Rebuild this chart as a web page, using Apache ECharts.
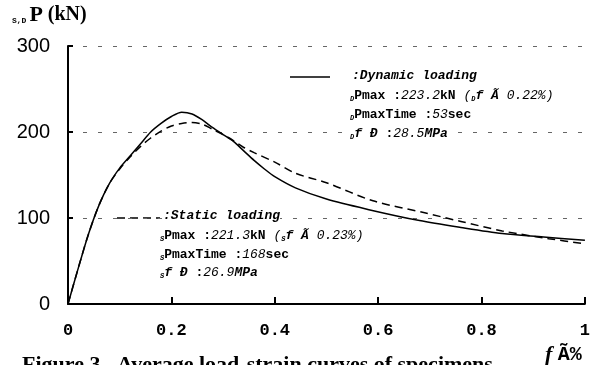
<!DOCTYPE html>
<html>
<head>
<meta charset="utf-8">
<script src="https://cdn.jsdelivr.net/npm/echarts@6/dist/echarts.min.js"></script>
<style>
html,body{margin:0;padding:0;background:#fff;}
#main{width:593px;height:365px;}
</style>
</head>
<body>
<div id="main"></div>
<script>
// strain (%) vs load (kN)
var dynStrain = [0,0.02,0.04,0.06,0.08,0.10,0.12,0.14,0.16,0.18,0.20,0.22,0.24,0.26,0.28,0.30,0.32,0.34,0.36,0.38,0.40,0.44,0.50,0.58,0.68,0.76,0.84,0.92,1.0];
var dynLoad   = [0,42,82,115,140,158,172,186,200,210,218,223,221,214,205,197,189,178,167,157,148,135,122,110,97,89,82,78,74];
var staStrain = [0,0.02,0.04,0.06,0.08,0.10,0.12,0.14,0.16,0.18,0.20,0.22,0.24,0.26,0.28,0.30,0.32,0.34,0.36,0.40,0.44,0.50,0.59,0.69,0.76,0.84,0.93,1.0];
var staLoad   = [0,42,82,115,140,157,171,183,193,201,207,210,211,209,203,197,190,182,176,165,152,141,120,106,96,85,76,70];
var xTicks = ['0','0.2','0.4','0.6','0.8','1'];

function pairs(xs,ys){
	var out=[];
	for(var i=0;i<xs.length;i++){ out.push([xs[i],ys[i]]); }
	return out;
}

var mono = 'Liberation Mono';
var rich = {
	sub:{fontFamily:mono,fontSize:7,fontWeight:'bold',fontStyle:'italic',verticalAlign:'bottom',padding:[8,0,0,0]},
	b:{fontFamily:mono,fontSize:13,fontWeight:'bold'},
	bi:{fontFamily:mono,fontSize:13,fontWeight:'bold',fontStyle:'italic'},
	i:{fontFamily:mono,fontSize:13,fontStyle:'italic'}
};

function note(x,y,txt){
	return {type:'text',left:x,top:y,z:10,
		style:{text:txt,rich:rich,fill:'#000',backgroundColor:'#fff',font:'bold 13px '+mono}};
}

var chart = echarts.init(document.getElementById('main'));
var option = {
	backgroundColor:'#fff',
	animation:false,
	grid:{left:68,right:3,top:46,bottom:61},
	xAxis:{
		type:'value',min:0,max:1,interval:0.2,
		axisLine:{lineStyle:{color:'#000',width:2}},
		axisTick:{inside:true,length:7,lineStyle:{color:'#000',width:2}},
		axisLabel:{color:'#000',fontFamily:mono,fontWeight:'bold',fontSize:17,margin:18,
			formatter:function(v){ return xTicks[Math.round(v*5)]; }},
		splitLine:{show:false}
	},
	yAxis:{
		type:'value',min:0,max:300,interval:100,
		axisLine:{show:true,lineStyle:{color:'#000',width:2}},
		axisTick:{show:true,inside:true,length:5,lineStyle:{color:'#000',width:2}},
		axisLabel:{color:'#000',fontFamily:'Liberation Sans',fontSize:20,margin:18},
		splitLine:{show:true,lineStyle:{color:'#666',width:1,type:[4,11]}}
	},
	series:[
		{name:'Dynamic',type:'line',data:pairs(dynStrain,dynLoad),smooth:0.3,showSymbol:false,
			lineStyle:{color:'#000',width:1.5}},
		{name:'Static',type:'line',data:pairs(staStrain,staLoad),smooth:0.3,showSymbol:false,
			lineStyle:{color:'#000',width:1.5,type:[8,5]}}
	],
	graphic:[
		{type:'text',left:12,top:4,
			style:{text:'{s|S,D}{p|P}{u| (kN)}',rich:{
				s:{fontFamily:mono,fontSize:8,fontWeight:'bold',padding:[12,3,0,0]},
				p:{fontFamily:'Liberation Serif',fontSize:22,fontWeight:'bold'},
				u:{fontFamily:'Liberation Serif',fontSize:20,fontWeight:'bold'}},fill:'#000'}},
		// dynamic legend
		{type:'line',shape:{x1:290,y1:77,x2:330,y2:77},style:{stroke:'#000',lineWidth:1.5}},
		note(352,69,'{bi|:Dynamic loading}'),
		note(350,88,'{sub|D}{b|Pmax :}{i|223.2}{b|kN} {i|(}{sub|D}{bi|f Ã}{i| 0.22%)}'),
		note(350,107,'{sub|D}{b|PmaxTime :}{i|53}{b|sec}'),
		note(350,126,'{sub|D}{bi|f Đ} {b|:}{i|28.5}{bi|MPa}'),
		// static legend
		{type:'line',shape:{x1:117,y1:218,x2:160,y2:218},style:{stroke:'#000',lineWidth:1.5,lineDash:[8,5]}},
		note(163,209,'{bi|:Static loading}'),
		note(160,228,'{sub|S}{b|Pmax :}{i|221.3}{b|kN} {i|(}{sub|S}{bi|f Ã}{i| 0.23%)}'),
		note(160,247,'{sub|S}{b|PmaxTime :}{i|168}{b|sec}'),
		note(160,265,'{sub|S}{bi|f Đ} {b|:}{i|26.9}{bi|MPa}'),
		// caption and x-axis name, clipped at the bottom edge
		{type:'text',left:22,top:354,
			style:{text:'Figure 3   Average load-strain curves of specimens',fill:'#000',
				font:'bold 22px "Liberation Serif"'}},
		{type:'text',left:545,top:344,z:11,
			style:{text:'{i|f }{b|Ã%}',rich:{
				i:{fontFamily:'Liberation Serif',fontSize:22,fontStyle:'italic',fontWeight:'bold'},
				b:{fontFamily:mono,fontSize:20,fontWeight:'bold'}},fill:'#000',backgroundColor:'#fff'}}
	]
};
chart.setOption(option);
</script>
</body>
</html>
